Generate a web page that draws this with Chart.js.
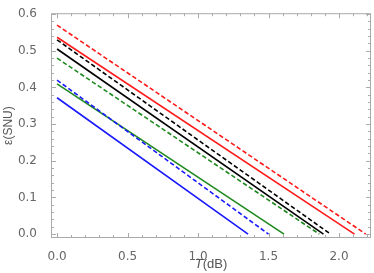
<!DOCTYPE html>
<html><head><meta charset="utf-8">
<script src="https://cdn.jsdelivr.net/npm/chart.js@4/dist/chart.umd.min.js"></script>
<style>html,body{margin:0;padding:0;background:#fff}#wrap{width:374px;height:273px}</style>
</head><body><div id="wrap"><canvas id="c"></canvas></div>
<script>
// Data
const seriesNames = ['red dashed','red solid','black dashed','black solid','green dashed','blue dashed','green solid','blue solid'];
const seriesColors = ['#ff1a1a','#ff1a1a','#000000','#000000','#1f8a1f','#1a1aff','#1f8a1f','#1a1aff'];
const seriesDashed = [true,false,true,false,true,true,false,false];
const epsAtZero = [0.570,0.537,0.530,0.505,0.480,0.420,0.410,0.372];   // ε(SNU) at T = 0
const tAtZeroEps = [2.19,2.11,1.94,1.89,1.86,1.50,1.61,1.355];        // T(dB) where ε reaches 0
const xTicks = [0.0,0.5,1.0,1.5,2.0];
const yTicks = [0.0,0.1,0.2,0.3,0.4,0.5,0.6];

const FONT = "'Liberation Sans', Arial, sans-serif";
const TFONT = "'DejaVu Sans', sans-serif";
const datasets = seriesNames.map((n,i)=>({
  label:n,
  data:[{x:0,y:epsAtZero[i]},{x:tAtZeroEps[i],y:0}],
  borderColor:seriesColors[i],
  borderWidth:1.6,
  borderDash:seriesDashed[i]?[4.5,2.5]:[],
  pointRadius:0,
  showLine:true,
  fill:false
}));

const framePlugin = {
  id:'frame',
  afterDraw(chart){
    const {ctx, chartArea:a, scales:{x,y}} = chart;
    ctx.save();
    ctx.strokeStyle = '#aaaaaa';
    ctx.lineWidth = 1;
    ctx.strokeRect(a.left+0.5, a.top+0.5, a.right-a.left-1, a.bottom-a.top-1);
    ctx.beginPath();
    for (let k=0;k<=22;k++){
      const v = k*0.1;
      const px = Math.round(x.getPixelForValue(v))+0.5;
      if (px<a.left||px>a.right) continue;
      const len = (k%5===0)?5:3;
      ctx.moveTo(px,a.bottom); ctx.lineTo(px,a.bottom-len);
      ctx.moveTo(px,a.top); ctx.lineTo(px,a.top+len);
    }
    for (let k=0;k<=30;k++){
      const v = k*0.02;
      const py = Math.round(y.getPixelForValue(v))+0.5;
      if (py<a.top||py>a.bottom) continue;
      const len = (k%5===0)?5:3;
      ctx.moveTo(a.left,py); ctx.lineTo(a.left+len,py);
      ctx.moveTo(a.right,py); ctx.lineTo(a.right-len,py);
    }
    ctx.stroke();
    ctx.fillStyle = '#555';
    ctx.textBaseline = 'middle';
    const cx = (a.left+a.right)/2;
    ctx.font = "italic 13px " + FONT;
    const w1 = ctx.measureText('T').width;
    ctx.font = "13px " + FONT;
    const w2 = ctx.measureText('(dB)').width;
    const sx = cx - (w1+w2)/2;
    ctx.textAlign = 'left';
    ctx.font = "italic 13px " + FONT;
    ctx.fillText('T', sx, 264);
    ctx.font = "13px " + FONT;
    ctx.fillText('(dB)', sx+w1, 264);
    ctx.restore();
  }
};

new Chart(document.getElementById('c'), {
  type:'scatter',
  data:{datasets},
  options:{
    responsive:true, maintainAspectRatio:false, animation:false,
    layout:{padding:{top:6,right:3,left:0,bottom:0}},
    plugins:{legend:{display:false},tooltip:{enabled:false}},
    scales:{
      x:{
        type:'linear', min:-0.043, max:2.227,
        grid:{display:false}, border:{display:false},
        afterBuildTicks(s){ s.ticks = xTicks.map(v=>({value:v})); },
        afterFit(s){ s.height = 35; },
        ticks:{color:'#666', padding:4, font:{family:TFONT,size:12}, maxRotation:0,
               callback:v=>Number(v).toFixed(1)}
      },
      y:{
        type:'linear', min:-0.0106, max:0.6026,
        grid:{display:false}, border:{display:false},
        afterBuildTicks(s){ s.ticks = yTicks.map(v=>({value:v})); },
        afterFit(s){ s.width = 51; },
        ticks:{color:'#666', padding:6, font:{family:TFONT,size:12},
               callback:v=>Number(v).toFixed(1)},
        title:{display:true, text:'ε(SNU)', color:'#555', font:{family:FONT,size:12}, padding:{top:1,bottom:0}}
      }
    }
  },
  plugins:[framePlugin]
});
</script>
</body></html>
